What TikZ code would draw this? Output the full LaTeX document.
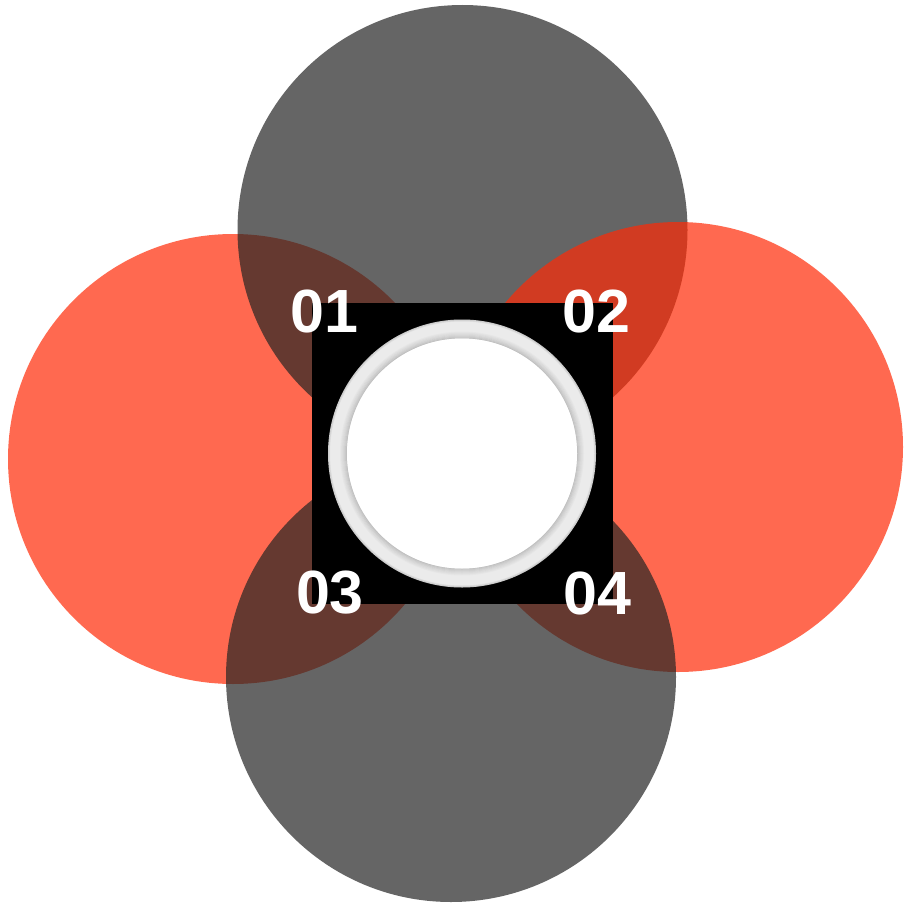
\documentclass[tikz,border=0pt]{standalone}
\usepackage{fontspec}
\setmainfont{Liberation Sans}
\usepackage{tikz}
\usetikzlibrary{positioning}
\definecolor{petalred}{RGB}{255,42,5}
\definecolor{petalgray}{RGB}{36,36,36}
\definecolor{ringgray}{RGB}{235,235,235}
\begin{document}
\begin{tikzpicture}[x=1pt,y=-1pt,
  petal/.style={circle,minimum size=450pt,inner sep=0pt,fill opacity=0.7},
  redpetal/.style={petal,fill=petalred},
  graypetal/.style={petal,fill=petalgray},
  num/.style={text=white,font=\fontsize{61}{61}\selectfont\bfseries,inner sep=0pt}]
\useasboundingbox (0,0) rectangle (904,904);
% ---------- petals ----------
\node[redpetal] (left) at (233,459) {};
\node[graypetal] (top) at (462.5,230) {};
\node[redpetal] (right) at (678,447) {};
\node[graypetal] (bottom) at (451,677) {};
% ---------- centre square and ring ----------
\node[fill=black,minimum size=301pt,inner sep=0pt] (core) at (462,453.5) {};
\node[circle,fill=ringgray,minimum size=268pt,inner sep=0pt] (ring) at (core.center) {};
\foreach \r/\o in {133.5/0.12,132.5/0.06}
  \draw[black,opacity=\o,line width=1pt] (ring.center) circle (\r);
\foreach \r/\o in {115.5/0.16,116.5/0.13,117.5/0.10,118.5/0.08,119.5/0.06,120.5/0.04,121.5/0.02}
  \draw[black,opacity=\o,line width=1pt] (ring.center) circle (\r);
\node[circle,fill=white,minimum size=230pt,inner sep=0pt] (hole) at (core.center) {};
% ---------- numbers ----------
\node[num] (n1) at (324.5,311.5) {01};
\node[num] (n2) at (596.5,311.5) {02};
\node[num] (n3) at (330,592.5) {03};
\node[num] (n4) at (597.5,593) {04};
\end{tikzpicture}
\end{document}
